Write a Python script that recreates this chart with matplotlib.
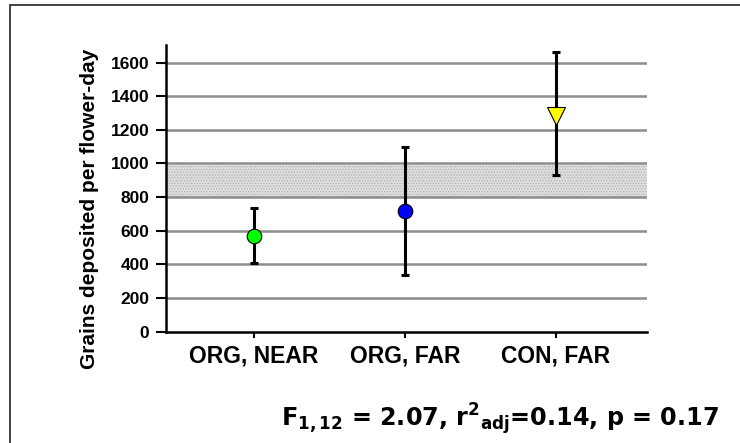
import matplotlib
matplotlib.use("Agg")
import matplotlib.pyplot as plt
from matplotlib.patches import Rectangle

# Treatment groups and pollen deposition estimates
groups = ["ORG, NEAR", "ORG, FAR", "CON, FAR"]
means = [568, 716, 1285]
upper = [732, 1099, 1661]
lower = [408, 339, 931]
marker_colors = ["#00ff00", "#0000ff", "#ffff00"]
marker_shapes = ["o", "o", "v"]
yticks = [0, 200, 400, 600, 800, 1000, 1200, 1400, 1600]
band = (800, 988)  # reference range shown as shaded band
stats_text = r"F$_{\mathbf{1,12}}$ = 2.07, r$^{\mathbf{2}}$$_{\mathbf{adj}}$=0.14, p = 0.17"

plt.rcParams["font.family"] = ["Liberation Sans", "DejaVu Sans"]
plt.rcParams["hatch.linewidth"] = 0.6

W, H = 740, 443
fig = plt.figure(figsize=(W / 100, H / 100), dpi=100)
fig.patches.append(Rectangle((10 / W, -0.1), 1.2, 1 - 5 / H + 0.1,
                             transform=fig.transFigure, fill=False,
                             edgecolor="#333333", linewidth=1.3))

ax = fig.add_axes([166 / W, 1 - 331.5 / H, (647 - 166) / W, (331.5 - 45) / H])
x = list(range(len(groups)))

ax.set_xlim(-0.583, 2.603)
ax.set_ylim(0, 1705)

# shaded band
ax.axhspan(band[0], band[1], facecolor="#dedede", edgecolor="#b0b0b0",
           hatch="......", linewidth=0, zorder=0.5)

# gridlines
for t in yticks[1:]:
    ax.axhline(t, color="#8c8c8c", linewidth=1.8, zorder=1)

for i in x:
    ax.errorbar(i, means[i], yerr=[[means[i] - lower[i]], [upper[i] - means[i]]],
                fmt="none", ecolor="black", elinewidth=2.2, capsize=3,
                capthick=2.2, zorder=3)
    ax.plot(i, means[i], marker=marker_shapes[i],
            markersize=10.5 if marker_shapes[i] == "o" else 13,
            markerfacecolor=marker_colors[i], markeredgecolor="black",
            markeredgewidth=0.8, linestyle="none", zorder=4)

ax.set_yticks(yticks)
ax.set_yticklabels([str(t) for t in yticks], fontsize=12.5, fontweight="bold")
ax.set_xticks(x)
ax.set_xticklabels(groups, fontsize=16.5, fontweight="bold")
ax.tick_params(axis="y", direction="out", length=7, width=1.5, pad=5)
ax.tick_params(axis="x", direction="out", length=4.5, width=1.5, pad=5)

for side in ["top", "right"]:
    ax.spines[side].set_visible(False)
for side in ["left", "bottom"]:
    ax.spines[side].set_linewidth(1.8)

fig.text(90 / W, 1 - 208.5 / H, "Grains deposited per flower-day", rotation=90,
         ha="center", va="center", fontsize=15, fontweight="bold")

fig.text(719 / W, 1 - 426 / H, stats_text, ha="right", va="baseline",
         fontsize=17.2, fontweight="bold", family="DejaVu Sans")

fig.savefig("out.png", dpi=100)
